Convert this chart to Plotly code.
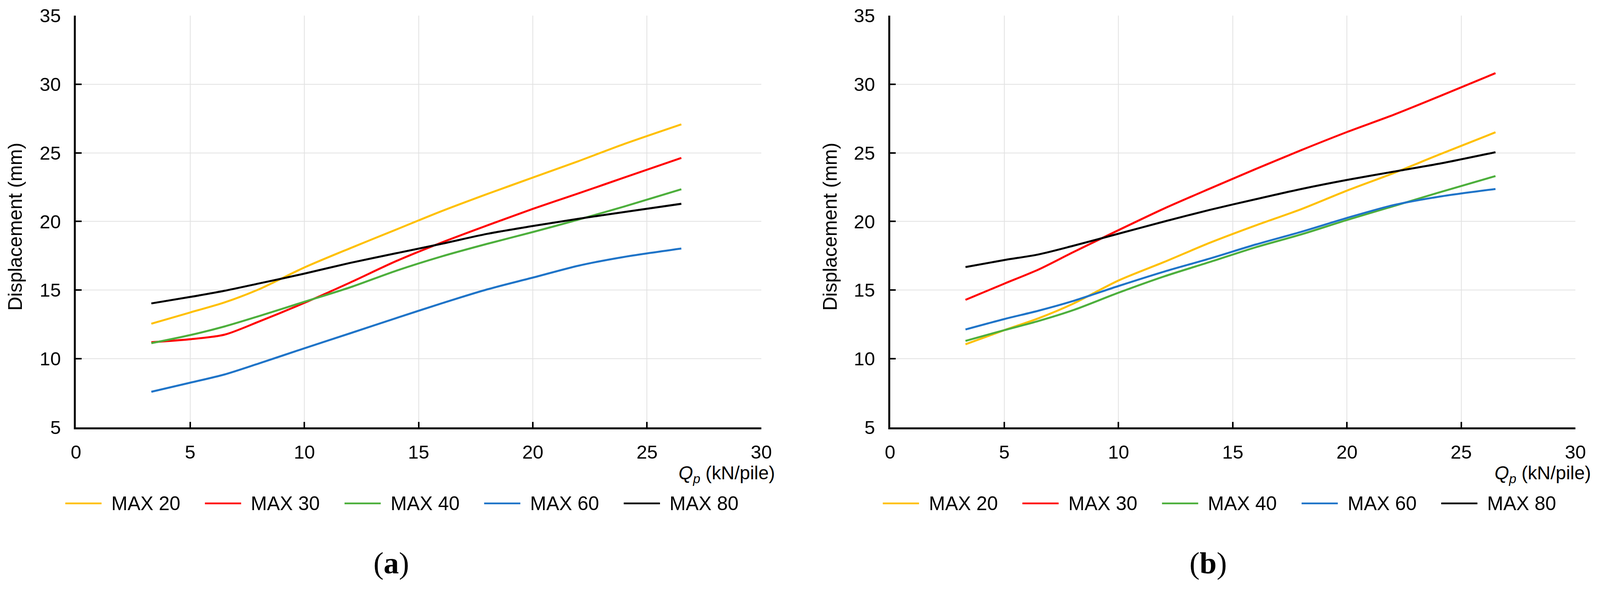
import plotly.graph_objects as go

# reference canvas (pixels); the photographed viewport is smaller than the
# window, so the figure is built on a proportionally smaller canvas (scale S).
REF_W, REF_H = 4277, 1568
S = 0.9555
W, H = round(REF_W * S), round(REF_H * S)

# ---------------- data ----------------
q = [3.3, 5, 6.5, 8, 10, 12, 14, 16, 18, 20, 22, 24, 26.5]
series_names = ["MAX 20", "MAX 30", "MAX 40", "MAX 60", "MAX 80"]
series_colors = ["#FFC000", "#FF0000", "#4DAF3C", "#1F74C8", "#000000"]

a_max20 = [12.55, 13.37, 14.1, 15.05, 16.65, 18.05, 19.4, 20.75, 22.0, 23.2, 24.4, 25.65, 27.08]
a_max30 = [11.2, 11.42, 11.75, 12.7, 14.07, 15.55, 17.1, 18.46, 19.71, 20.92, 22.05, 23.2, 24.63]
a_max40 = [11.13, 11.72, 12.35, 13.1, 14.15, 15.2, 16.4, 17.45, 18.37, 19.23, 20.14, 21.09, 22.35]
a_max60 = [7.59, 8.25, 8.85, 9.65, 10.76, 11.85, 12.95, 14.03, 15.05, 15.91, 16.78, 17.42, 18.03]
a_max80 = [14.03, 14.5, 14.95, 15.48, 16.2, 16.98, 17.68, 18.37, 19.1, 19.67, 20.2, 20.69, 21.29]

b_max20 = [11.05, 12.08, 12.95, 14.0, 15.7, 17.05, 18.45, 19.71, 20.9, 22.25, 23.5, 24.85, 26.5]
b_max30 = [14.29, 15.47, 16.5, 17.75, 19.37, 20.95, 22.4, 23.82, 25.2, 26.52, 27.75, 29.09, 30.81]
b_max40 = [11.3, 12.08, 12.75, 13.53, 14.81, 16.0, 17.05, 18.12, 19.06, 20.11, 21.1, 22.1, 23.31]
b_max60 = [12.13, 12.89, 13.5, 14.2, 15.3, 16.35, 17.3, 18.32, 19.25, 20.26, 21.18, 21.8, 22.37]
b_max80 = [16.68, 17.19, 17.6, 18.22, 19.11, 20.0, 20.85, 21.62, 22.37, 23.03, 23.62, 24.2, 25.05]

x_ticks = [0, 5, 10, 15, 20, 25, 30]
y_ticks = [5, 10, 15, 20, 25, 30, 35]
y_title = "Displacement (mm)"
x_title = "<i>Q<sub>p</sub></i> (kN/pile)"
panel_labels = ["(<b>a</b>)", "(<b>b</b>)"]

# ---------------- layout helpers (reference pixel -> paper fraction / size) ----------------
def px(xp):
    return xp / REF_W

def py(yp):
    return 1 - yp / REF_H

def sz(v):
    return v * S

FONT = "Liberation Sans, Arial, sans-serif"
SERIF = "Liberation Serif, Times New Roman, serif"

fig = go.Figure()

panels = [
    dict(data=[a_max20, a_max30, a_max40, a_max60, a_max80], xa="x", ya="y",
         x0=203.5, x1=2039.5, ytitle_x=41, xtitle_r=2078, leg_x=175, lab_x=1048),
    dict(data=[b_max20, b_max30, b_max40, b_max60, b_max80], xa="x2", ya="y2",
         x0=2384.6, x1=4220.6, ytitle_x=2224, xtitle_r=4264, leg_x=2365, lab_x=3237),
]
plot_top, plot_bot = 42, 1146

for p in panels:
    for name, color, vals in zip(series_names, series_colors, p["data"]):
        fig.add_trace(go.Scatter(
            x=q, y=vals, name=name, mode="lines",
            line=dict(color=color, width=sz(5.3), shape="spline", smoothing=0.8),
            xaxis=p["xa"], yaxis=p["ya"], showlegend=False,
        ))

axis_common = dict(
    showgrid=True, gridcolor="#E2E2E2", gridwidth=sz(2.5),
    showline=True, linecolor="black", linewidth=sz(5),
    ticks="inside", ticklen=sz(15), tickwidth=sz(4), tickcolor="black",
    zeroline=False, automargin=False,
    tickfont=dict(family=FONT, size=sz(51), color="black"),
)

layout = dict(
    width=W, height=H, paper_bgcolor="white", plot_bgcolor="white",
    margin=dict(l=0, r=0, t=0, b=0, autoexpand=False), showlegend=False,
)
annotations = []
shapes = []
for i, p in enumerate(panels):
    sfx = "" if i == 0 else "2"
    layout["xaxis" + sfx] = dict(
        axis_common, range=[0, 30], tickvals=x_ticks,
        domain=[px(p["x0"]), px(p["x1"])], anchor="y" + sfx,
        ticklabelstandoff=round(sz(18)),
    )
    layout["yaxis" + sfx] = dict(
        axis_common, range=[5, 35], tickvals=y_ticks,
        domain=[py(plot_bot), py(plot_top)], anchor="x" + sfx,
        ticklabelstandoff=round(sz(25)),
    )
    # y-axis title
    annotations.append(dict(
        text=y_title, xref="paper", yref="paper", x=px(p["ytitle_x"]), y=py(608),
        xanchor="center", yanchor="middle", textangle=-90, showarrow=False,
        font=dict(family=FONT, size=sz(52), color="black"),
    ))
    # x-axis title
    annotations.append(dict(
        text=x_title, xref="paper", yref="paper", x=px(p["xtitle_r"]), y=py(1272),
        xanchor="right", yanchor="middle", showarrow=False,
        font=dict(family=FONT, size=sz(50), color="black"),
    ))
    # panel label
    annotations.append(dict(
        text=panel_labels[i], xref="paper", yref="paper", x=px(p["lab_x"]), y=py(1510),
        xanchor="center", yanchor="middle", showarrow=False,
        font=dict(family=SERIF, size=sz(82), color="black"),
    ))
    # legend (manual)
    for k, (name, color) in enumerate(zip(series_names, series_colors)):
        lx = p["leg_x"] + k * 374
        shapes.append(dict(
            type="line", xref="paper", yref="paper",
            x0=px(lx), x1=px(lx + 97), y0=py(1350), y1=py(1350),
            line=dict(color=color, width=sz(4.5)),
        ))
        annotations.append(dict(
            text=name, xref="paper", yref="paper", x=px(lx + 121), y=py(1350),
            xanchor="left", yanchor="middle", showarrow=False,
            font=dict(family=FONT, size=sz(52), color="black"),
        ))

layout["annotations"] = annotations
layout["shapes"] = shapes
fig.update_layout(**layout)
fig.write_html(
    "out.html",
    config={"displayModeBar": False},
    post_script="document.body.style.margin='0px';document.body.style.overflow='hidden';",
)
